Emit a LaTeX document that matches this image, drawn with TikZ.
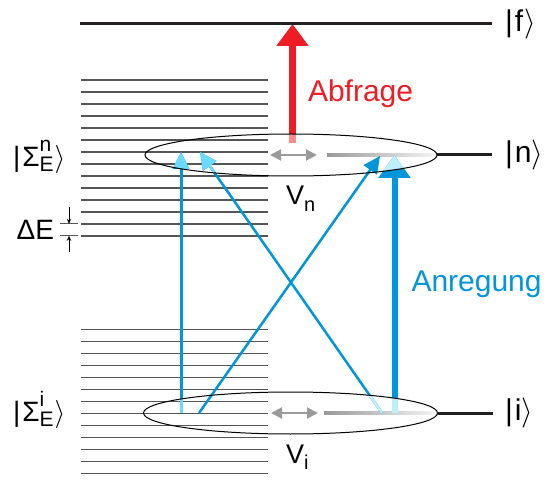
\RequirePackage{fix-cm}
\documentclass[tikz,border=0pt]{standalone}
\usepackage{fontspec}
\setmainfont{Liberation Sans}
\usetikzlibrary{arrows.meta}
\definecolor{blueA}{HTML}{0096D9}
\definecolor{cyanL}{HTML}{6ADBFF}
\definecolor{cyanP}{HTML}{BDEFFB}
\definecolor{redA}{HTML}{EE1C25}
\definecolor{pinkA}{HTML}{FF8A8E}
\definecolor{levgray}{HTML}{555555}
\definecolor{arrgray}{HTML}{9A9A9A}
\definecolor{mainblack}{HTML}{231F20}
\newcommand\fsz[1]{\fontsize{#1}{#1}\selectfont}
\tikzset{
  sublevel/.style={draw=levgray, line width=1.5pt},
  mainlevel/.style={draw=mainblack, line width=3pt},
  thinblue/.style={line width=3pt, -{Triangle[length=17pt,width=16pt]}},
  diagblue/.style={line width=2.5pt, -{Triangle[length=17pt,width=16pt]}},
  thickblue/.style={line width=6pt, -{Triangle[length=23pt,width=31pt]}},
  probe/.style={line width=6.5pt, -{Triangle[length=22pt,width=31pt]}},
  vibarrow/.style={draw=arrgray, line width=2pt, {Triangle[length=11pt,width=11pt]}-{Triangle[length=11pt,width=11pt]}},
  lbl/.style={inner sep=0pt, outer sep=0pt},
  tick/.style={draw=levgray, line width=1pt},
  smallarr/.style={draw=black, line width=0.8pt, -{Stealth[length=5pt,width=4.5pt]}},
  cloud/.style={draw=black, line width=1pt}
}
\begin{document}
\begin{tikzpicture}[x=1pt,y=-1pt]
\useasboundingbox (0,0) rectangle (547,484);

% quasi-continuum levels
\foreach \k in {0,...,13} \draw[sublevel] (81,{79.8+12*\k}) -- (268,{79.8+12*\k});
\foreach \k in {0,...,12} \draw[sublevel] (81,{329.5+12*\k}) -- (268,{329.5+12*\k});

% Delta E marks
\coordinate (t1a) at (60,223.8); \coordinate (t1b) at (78,223.8);
\coordinate (t2a) at (60,235.8); \coordinate (t2b) at (78,235.8);
\draw[tick] (t1a) -- (t1b);
\draw[tick] (t2a) -- (t2b);
\coordinate (d1a) at (69,207); \coordinate (d1b) at (69,223.8);
\coordinate (d2a) at (69,252); \coordinate (d2b) at (69,235.8);
\draw[smallarr] (d1a) -- (d1b);
\draw[smallarr] (d2a) -- (d2b);

% gradient lines inside the ellipses
\shade[left color=arrgray, right color=white!92!gray] (327,153.8) rectangle (437,156.2);
\shade[left color=arrgray, right color=white!92!gray] (324,411.8) rectangle (437,414.2);

% arrow end points
\coordinate (A0) at (181,413);   \coordinate (A1) at (181,152);
\coordinate (B0) at (382,413);   \coordinate (B1) at (200,152);
\coordinate (C0) at (199,413);   \coordinate (C1) at (380,156);
\coordinate (D0) at (394.5,413); \coordinate (D1) at (394.5,155);
\coordinate (R0) at (292.5,143); \coordinate (R1) at (292.5,24);

% dark arrows
\draw[thinblue, draw=blueA, fill=blueA] (A0) -- (A1);
\draw[diagblue, draw=blueA, fill=blueA] (B0) -- (B1);
\draw[thickblue, draw=blueA, fill=blueA] (D0) -- (D1);
\draw[probe, draw=redA, fill=redA] (R0) -- (R1);

% faded parts inside upper ellipse
\begin{scope}
\clip (291,155) ellipse [x radius=146, y radius=21];
\draw[thinblue, draw=cyanL, fill=cyanL] (A0) -- (A1);
\draw[diagblue, draw=cyanL, fill=cyanL] (B0) -- (B1);
\draw[thickblue, draw=cyanP, fill=cyanP] (D0) -- (D1);
\draw[probe, draw=pinkA, fill=pinkA] (R0) -- (R1);
\end{scope}
% faded parts inside lower ellipse
\begin{scope}
\clip (290.5,413) ellipse [x radius=147, y radius=21];
\draw[thinblue, draw=cyanL, fill=cyanL] (A0) -- (A1);
\draw[diagblue, draw=cyanP, fill=cyanP] (B0) -- (B1);
\draw[thickblue, draw=cyanP, fill=cyanP] (D0) -- (D1);
\end{scope}

\draw[diagblue, draw=blueA, fill=blueA] (C0) -- (C1);

% vibrational double arrows
\coordinate (va0) at (270,155); \coordinate (va1) at (317,155);
\coordinate (vb0) at (271,413); \coordinate (vb1) at (318,413);
\draw[vibarrow, fill=arrgray] (va0) -- (va1);
\draw[vibarrow, fill=arrgray] (vb0) -- (vb1);

% ellipses
\draw[cloud] (291,155) ellipse [x radius=146, y radius=21];
\draw[cloud] (290.5,413) ellipse [x radius=147, y radius=21];

% main levels
\coordinate (f0) at (80,24);  \coordinate (f1) at (492,24);
\coordinate (n0) at (437,155); \coordinate (n1) at (492,155);
\coordinate (i0) at (437,413); \coordinate (i1) at (493,413);
\draw[mainlevel] (f0) -- (f1);
\draw[mainlevel] (n0) -- (n1);
\draw[mainlevel] (i0) -- (i1);

% labels
\node[lbl, anchor=west] (ketf) at (505,24) {\fsz{30}|\kern2pt f\kern1pt$\rangle$};
\node[lbl, anchor=west] (ketn) at (505,155) {\fsz{30}|\kern2pt n$\rangle$};
\node[lbl, anchor=west] (keti) at (505,413) {\fsz{30}|\kern2pt i$\rangle$};

\node[lbl, anchor=base west, text=redA] (abfrage) at (308,101.7) {\fsz{30}Abfrage};
\node[lbl, anchor=base west, text=blueA] (anregung) at (411.5,291.5) {\fsz{30}Anregung};

\node[lbl, anchor=base west] (vn) at (286,205) {\fsz{27}V\raisebox{-6.5pt}{\fsz{20}n}};
\node[lbl, anchor=base west] (vi) at (286,463) {\fsz{27}V\raisebox{-6.5pt}{\fsz{20}i}};

\node[lbl, anchor=base west] (sigman) at (13,167) {\fsz{28}|\kern2pt Σ\rlap{\raisebox{15pt}{\fsz{21}n}}\raisebox{-4.7pt}{\fsz{21}E}\kern1pt$\rangle$};
\node[lbl, anchor=base west] (sigmai) at (13,421.5) {\fsz{28}|\kern2pt Σ\rlap{\raisebox{15pt}{\fsz{21}i}}\raisebox{-4.7pt}{\fsz{21}E}\kern1pt$\rangle$};

\node[lbl, anchor=base east] (deltae) at (54,240) {\fsz{28}ΔE};
\end{tikzpicture}
\end{document}
